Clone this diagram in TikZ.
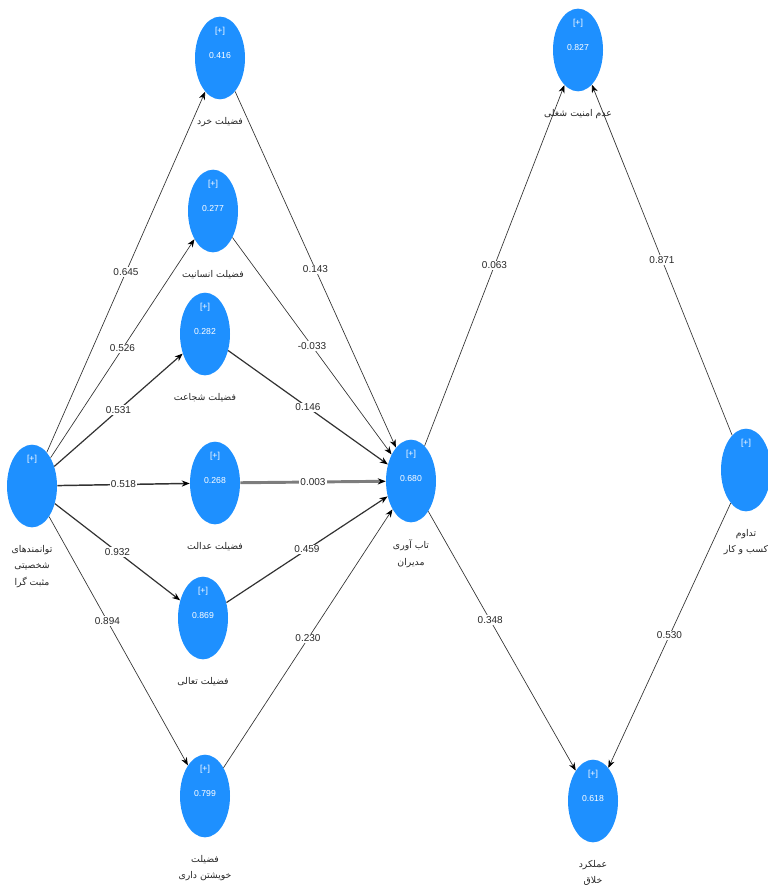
\documentclass[tikz,border=0pt]{standalone}
\usepackage{fontspec}
\setmainfont{Liberation Sans}
\newfontfamily\farsifont[Script=Arabic]{DejaVu Sans}
\TeXXeTstate=1
\usepackage{tikz}
\usetikzlibrary{arrows.meta,shapes.geometric,positioning}
\definecolor{lvblue}{RGB}{30,144,255}
\definecolor{relgray}{RGB}{50,50,50}
\definecolor{heavygray}{RGB}{125,125,125}
\definecolor{coefgray}{RGB}{40,40,40}
\newcommand{\rl}[1]{\beginR#1\endR}
\tikzset{
         lv/.style={ellipse, fill=lvblue, draw=none, minimum width=37.5pt, minimum height=62pt, inner sep=0pt},
         lvin/.style={text=white, font=\fontsize{6.5}{18.5}\selectfont, align=center, inner sep=0pt},
         lvname/.style={font=\farsifont\fontsize{7}{12.5}\selectfont, align=center, inner sep=1pt, text=black!85},
         coef/.style={midway, fill=white, inner sep=1pt, font=\fontsize{7.5}{9}\selectfont, text=coefgray},
         reltip/.style={-{Stealth[length=6pt, width=4.6pt, color=black]}},
         relthin/.style={reltip, draw=relgray, line width=0.5pt},
         relmid/.style={reltip, draw=relgray, line width=0.9pt},
         relbold/.style={reltip, draw=relgray, line width=1.1pt},
         relheavy/.style={reltip, draw=heavygray, line width=2.2pt}
        }
\begin{document}
\begin{tikzpicture}[x=0.75pt, y=-0.75pt]
\useasboundingbox (0,0) rectangle (767,888);
% latent variables
\node[lv] (tavan) at (32,486) {};
\node[lv] (khrad) at (220,58) {};
\node[lv] (ensan) at (213,211) {};
\node[lv] (shoja) at (205,334) {};
\node[lv] (edalat) at (215,483) {};
\node[lv] (taali) at (203,618) {};
\node[lv] (khish) at (205,796) {};
\node[lv] (tab) at (411,481) {};
\node[lv] (amniat) at (578,50) {};
\node[lv] (tadavom) at (746,470) {};
\node[lv] (amal) at (593,801) {};
% texts inside the circles
\node[lvin] (tavanin) at ([yshift=20pt]tavan.center) {[+]};
\node[lvin] (khradin) at ([yshift=11.5pt]khrad.center) {[+]\\0.416};
\node[lvin] (ensanin) at ([yshift=11.5pt]ensan.center) {[+]\\0.277};
\node[lvin] (shojain) at ([yshift=11.5pt]shoja.center) {[+]\\0.282};
\node[lvin] (edalatin) at ([yshift=11.5pt]edalat.center) {[+]\\0.268};
\node[lvin] (taaliin) at ([yshift=11.5pt]taali.center) {[+]\\0.869};
\node[lvin] (khishin) at ([yshift=11.5pt]khish.center) {[+]\\0.799};
\node[lvin] (tabin) at ([yshift=11.5pt]tab.center) {[+]\\0.680};
\node[lvin] (amniatin) at ([yshift=11.5pt]amniat.center) {[+]\\0.827};
\node[lvin] (tadavomin) at ([yshift=20pt]tadavom.center) {[+]};
\node[lvin] (amalin) at ([yshift=11.5pt]amal.center) {[+]\\0.618};
% names under the circles
\node[lvname, below=12pt of tavan] (tavanlbl) {\rl{توانمندهای}\\\rl{شخصیتی}\\\rl{مثبت گرا}};
\node[lvname, below=12pt of khrad] (khradlbl) {\rl{فضیلت خرد}};
\node[lvname, below=12pt of ensan] (ensanlbl) {\rl{فضیلت انسانیت}};
\node[lvname, below=12pt of shoja] (shojalbl) {\rl{فضیلت شجاعت}};
\node[lvname, below=12pt of edalat] (edalatlbl) {\rl{فضیلت عدالت}};
\node[lvname, below=12pt of taali] (taalilbl) {\rl{فضیلت تعالی}};
\node[lvname, below=12pt of khish] (khishlbl) {\rl{فضیلت}\\\rl{خویشتن داری}};
\node[lvname, below=12pt of tab] (tablbl) {\rl{تاب آوری}\\\rl{مدیران}};
\node[lvname, below=12pt of amniat] (amniatlbl) {\rl{عدم امنیت شغلی}};
\node[lvname, below=12pt of tadavom] (tadavomlbl) {\rl{تداوم}\\\rl{کسب و کار}};
\node[lvname, below=12pt of amal] (amallbl) {\rl{عملکرد}\\\rl{خلاق}};
% paths from the character strengths
\draw[relthin] (tavan) -- (khrad) node[coef] {0.645};
\draw[relthin] (tavan) -- (ensan) node[coef] {0.526};
\draw[relmid] (tavan) -- (shoja) node[coef] {0.531};
\draw[relbold] (tavan) -- (edalat) node[coef] {0.518};
\draw[relmid] (tavan) -- (taali) node[coef] {0.932};
\draw[relthin] (tavan) -- (khish) node[coef, pos=0.42] {0.894};
% paths into resilience
\draw[relthin] (khrad) -- (tab) node[coef] {0.143};
\draw[relthin] (ensan) -- (tab) node[coef] {-0.033};
\draw[relmid] (shoja) -- (tab) node[coef] {0.146};
\draw[relheavy] (edalat) -- (tab) node[coef] {0.003};
\draw[relmid] (taali) -- (tab) node[coef] {0.459};
\draw[relthin] (khish) -- (tab) node[coef] {0.230};
% right part
\draw[relthin] (tab) -- (amniat) node[coef] {0.063};
\draw[relthin] (tadavom) -- (amniat) node[coef] {0.871};
\draw[relthin] (tab) -- (amal) node[coef, pos=0.42] {0.348};
\draw[relthin] (tadavom) -- (amal) node[coef] {0.530};
\end{tikzpicture}
\end{document}
